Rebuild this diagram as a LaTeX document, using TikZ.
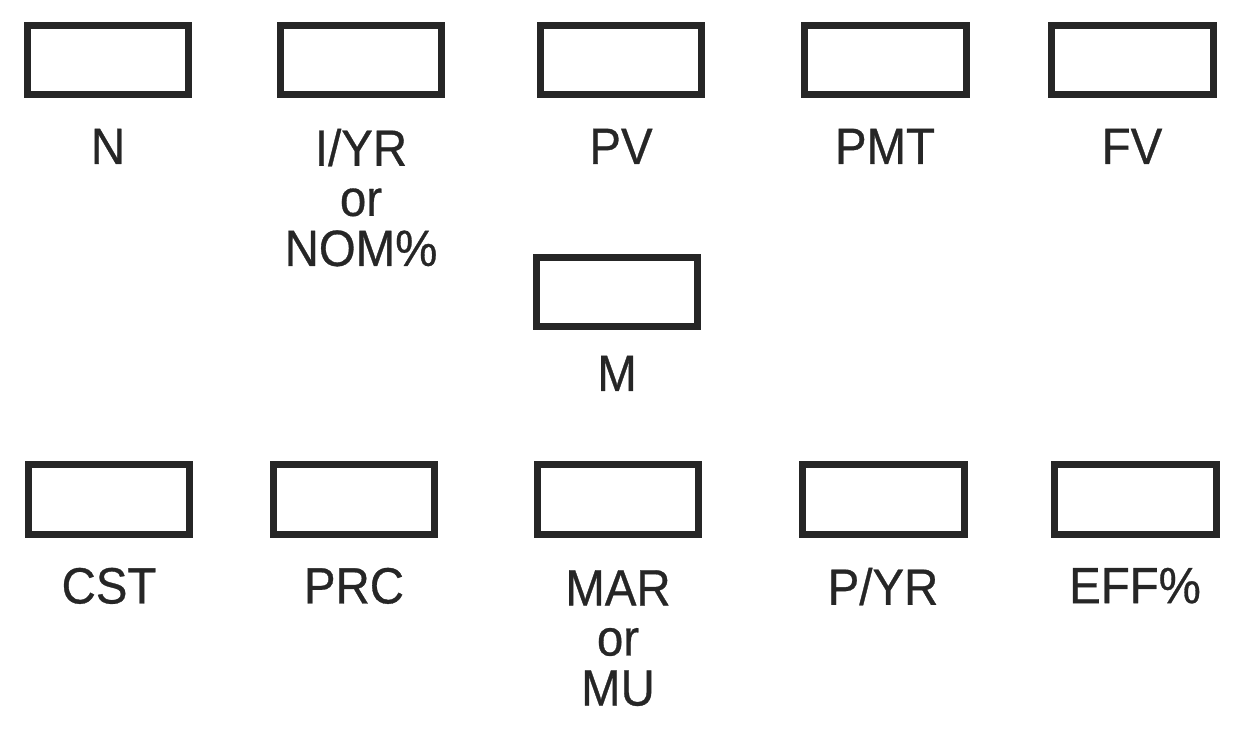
\documentclass[tikz,border=0pt]{standalone}
\usepackage{fontspec}
\setmainfont{Liberation Sans}[FakeStretch=0.93, FakeBold=0.6]
\usetikzlibrary{positioning}

\begin{document}
\begin{tikzpicture}[x=0.02cm, y=-0.02cm,
    keybox/.style={draw=black!85, line width=0.14cm, minimum width=3.24cm,
      minimum height=1.4cm, inner sep=0pt},
    keylabel/.style={inner sep=0pt, align=center, text=black!85,
      font=\fontsize{29}{28.5}\selectfont},
    node distance=0.6cm]
    \useasboundingbox (0,0) rectangle (1236,737);

    % Top row of keys
    \node[keybox] (n) at (108,60) {};
    \node[keybox] (iyr) at (361,60) {};
    \node[keybox] (pv) at (621,60) {};
    \node[keybox] (pmt) at (885,60) {};
    \node[keybox] (fv) at (1132,60) {};

    % Middle key, under PV
    \node[keybox] (m) at (617,292) {};

    % Bottom row of keys
    \node[keybox] (cst) at (109,499) {};
    \node[keybox] (prc) at (354,499) {};
    \node[keybox] (mar) at (618,499) {};
    \node[keybox] (pyr) at (883,499) {};
    \node[keybox] (eff) at (1135,499) {};

    % Labels, each one under its key
    \node[keylabel, below=of n] (nlab) {N};
    \node[keylabel, below=of iyr] (iyrlab) {I/YR\\or\\NOM\%};
    \node[keylabel, below=of pv] (pvlab) {PV};
    \node[keylabel, below=of pmt] (pmtlab) {PMT};
    \node[keylabel, below=of fv] (fvlab) {FV};
    \node[keylabel, below=0.5cm of m] (mlab) {M};
    \node[keylabel, below=of cst] (cstlab) {CST};
    \node[keylabel, below=of prc] (prclab) {PRC};
    \node[keylabel, below=0.65cm of mar] (marlab) {MAR\\or\\MU};
    \node[keylabel, below=of pyr] (pyrlab) {P/YR};
    \node[keylabel, below=of eff] (efflab) {EFF\%};
\end{tikzpicture}
\end{document}
